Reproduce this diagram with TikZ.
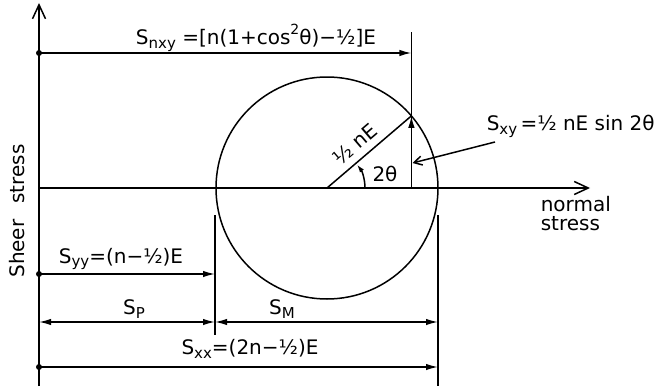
\documentclass[tikz,border=0pt]{standalone}
\usepackage{fontspec}
\setmainfont{DejaVu Sans}
\usetikzlibrary{arrows.meta}
\newcommand{\sbs}[1]{\raisebox{-0.35ex}{\fontsize{15}{15}\selectfont #1}}
\newcommand{\sps}[1]{\raisebox{0.9ex}{\fontsize{14}{14}\selectfont #1}}
\begin{document}
\begin{tikzpicture}[x=1pt,y=-1pt,line width=1.5pt,
  lbl/.style={font=\fontsize{20}{24}\selectfont, inner sep=0pt},
  dimarrow/.style={-{Latex[length=12pt,width=6.5pt]}},
  dimboth/.style={{Latex[length=12pt,width=6.5pt]}-{Latex[length=12pt,width=6.5pt]}},
  axisarrow/.style={-{Straight Barb[length=14pt,width=13pt,line width=1.5pt]}}]
\useasboundingbox (0,0) rectangle (667,388);
% axes
\coordinate (Ytop) at (39,3);
\coordinate (Ybot) at (39,386);
\coordinate (O) at (39,188);
\coordinate (Xend) at (590,188);
\draw[axisarrow] (Ybot) -- (Ytop);
\draw[axisarrow] (O) -- (Xend);
% circle
\coordinate (C) at (327,188);
\draw (C) circle[radius=111];
% point on circle and vertical
\coordinate (P) at (411.4,115.9);
\coordinate (F) at (411.4,188);
\coordinate (T) at (411.4,32);
\draw (T) -- (F);
\draw[dimarrow] (F) -- (P);
\draw (C) -- (P) node[lbl,pos=0.45,sloped,above=7pt] {½ nE};
\draw[-{Latex[length=8pt,width=5pt]}] (365,188) arc[start angle=0,end angle=-38,radius=38];
\node[lbl] (twotheta) at (385,174) {2θ};
% pointer to Sxy
\coordinate (Q1) at (495,142);
\coordinate (Q2) at (412.5,163);
\draw[-{Straight Barb[length=8pt,width=9pt,line width=1.5pt]}] (Q1) -- (Q2);
\node[lbl,anchor=west] (sxy) at (486,126) {S\sbs{xy}\,=½ nE sin 2θ};
% Snxy dimension
\coordinate (A1) at (39,53);
\coordinate (B1) at (411.4,53);
\fill (A1) circle[radius=3];
\draw[dimarrow] (A1) -- (B1);
\node[lbl] (snxy) at (256,38) {S\sbs{nxy} =[n(1+cos\sps{2}θ)−½]E};
% normal stress
\node[lbl,anchor=north west,align=left] (ns) at (540,196) {normal\\[-5pt]stress};
% Sheer stress
\node[lbl,rotate=90] (ss) at (17,211) {Sheer\hspace{0.8em}stress};
% vertical boundary lines
\coordinate (L1) at (215,215);
\coordinate (L2) at (215,335);
\coordinate (R1) at (438,215);
\coordinate (R2) at (438,386);
\draw (L1) -- (L2);
\draw (R1) -- (R2);
% Syy
\coordinate (A2) at (39,274);
\coordinate (B2) at (215,274);
\fill (A2) circle[radius=3];
\draw[dimarrow] (A2) -- (B2);
\node[lbl] (syy) at (121,259) {S\sbs{yy}=(n−½)E};
% Sp and SM
\coordinate (A3) at (39,322);
\coordinate (B3) at (215,322);
\coordinate (D3) at (438,322);
\draw[dimboth] (A3) -- (B3);
\draw[dimboth] (B3) -- (D3);
\node[lbl] (sp) at (134,309) {S\sbs{P}};
\node[lbl] (sm) at (282,309) {S\sbs{M}};
% Sxx
\coordinate (A4) at (39,367);
\coordinate (B4) at (438,367);
\fill (A4) circle[radius=3];
\draw[dimarrow] (A4) -- (B4);
\node[lbl] (sxx) at (250,349) {S\sbs{xx}=(2n−½)E};
\end{tikzpicture}
\end{document}
